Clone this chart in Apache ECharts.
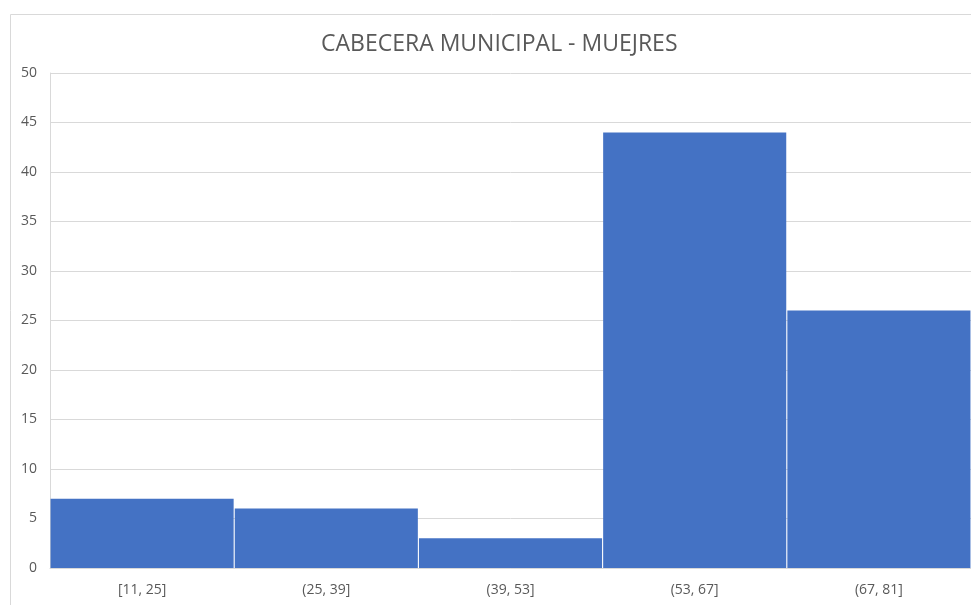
<!DOCTYPE html>
<html>
<head>
<meta charset="utf-8">
<script src="https://cdn.jsdelivr.net/npm/echarts@6/dist/echarts.min.js"></script>
<style>
  html, body { margin: 0; padding: 0; background: #fff; }
  #chart { width: 971px; height: 605px; }
</style>
</head>
<body>
<div id="chart"></div>
<script>
  // datos del histograma
  var categories = ['[11, 25]', '(25, 39]', '(39, 53]', '(53, 67]', '(67, 81]'];
  var values = [7, 6, 3, 44, 26];
  var yTicks = [0, 5, 10, 15, 20, 25, 30, 35, 40, 45, 50];

  var myChart = echarts.init(document.getElementById('chart'));
  var option = {
    animation: false,
    textStyle: { fontFamily: 'Open Sans' },
    title: {
      text: 'CABECERA MUNICIPAL - MUEJRES',
      left: 316, // el área del gráfico original sigue más allá del borde derecho
      top: 28,
      textStyle: { fontSize: 23, fontWeight: 'normal', color: '#595959', fontFamily: 'Open Sans' }
    },
    graphic: [{
      type: 'rect',
      shape: { x: 10.5, y: 14.5, width: 1000, height: 700 },
      style: { fill: 'none', stroke: '#d9d9d9', lineWidth: 1 },
      silent: true
    }],
    grid: { left: 50, right: 0, top: 73, bottom: 37 },
    xAxis: {
      type: 'category',
      data: categories,
      axisLine: { show: true, lineStyle: { color: '#d9d9d9' } },
      axisTick: { show: false },
      axisLabel: { color: '#595959', fontSize: 14, margin: 15 }
    },
    yAxis: {
      type: 'value',
      min: yTicks[0],
      max: yTicks[yTicks.length - 1],
      interval: 5,
      axisLine: { show: true, lineStyle: { color: '#d9d9d9' } },
      axisTick: { show: false },
      axisLabel: { color: '#595959', fontSize: 14, margin: 13 },
      splitLine: { lineStyle: { color: '#d9d9d9' } }
    },
    series: [{
      type: 'bar',
      data: values,
      barCategoryGap: 0,
      barWidth: '99.4%',
      itemStyle: { color: '#4472c4' }
    }]
  };
  myChart.setOption(option, true);
</script>
</body>
</html>
